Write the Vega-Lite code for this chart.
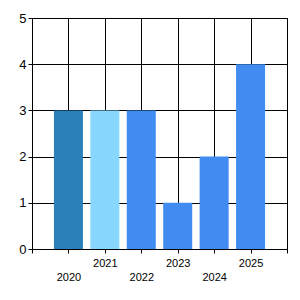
{
  "$schema": "https://vega.github.io/schema/vega-lite/v6.json",
  "width": 255,
  "height": 231,
  "autosize": {"type": "none"},
  "padding": {"left": 32, "top": 18, "right": 13, "bottom": 51},
  "background": "white",
  "config": {
    "view": {"stroke": "black", "strokeWidth": 1},
    "font": "Liberation Sans"
  },
  "data": {
    "values": [
      {"year": 2020, "value": 3, "color": "#2B80B9"},
      {"year": 2021, "value": 3, "color": "#87D7FF"},
      {"year": 2022, "value": 3, "color": "#418CF0"},
      {"year": 2023, "value": 1, "color": "#418CF0"},
      {"year": 2024, "value": 2, "color": "#418CF0"},
      {"year": 2025, "value": 4, "color": "#418CF0"}
    ]
  },
  "mark": {"type": "bar", "size": 29},
  "encoding": {
    "x": {
      "field": "year",
      "type": "quantitative",
      "scale": {"domain": [2019, 2026], "nice": false, "zero": false, "padding": 0},
      "axis": {
        "title": null,
        "values": [2019, 2020, 2021, 2022, 2023, 2024, 2025, 2026],
        "labelExpr": "datum.value == 2019 || datum.value == 2026 ? '' : (datum.value % 2 == 0 ? ['', '' + datum.value] : '' + datum.value)",
        "grid": true,
        "gridColor": "black",
        "gridOpacity": 1,
        "domainColor": "black",
        "tickColor": "black",
        "tickSize": 4,
        "labelColor": "black",
        "labelFontSize": 11,
        "labelLineHeight": 14,
        "labelPadding": 4,
        "labelFlush": false,
        "labelOverlap": false
      }
    },
    "y": {
      "field": "value",
      "type": "quantitative",
      "scale": {"domain": [0, 5], "nice": false},
      "axis": {
        "title": null,
        "values": [0, 1, 2, 3, 4, 5],
        "grid": true,
        "gridColor": "black",
        "gridOpacity": 1,
        "domainColor": "black",
        "tickColor": "black",
        "tickSize": 4,
        "labelColor": "black",
        "labelFontSize": 13,
        "labelPadding": 2,
        "labelFlush": false
      }
    },
    "color": {"field": "color", "type": "nominal", "scale": null}
  }
}
